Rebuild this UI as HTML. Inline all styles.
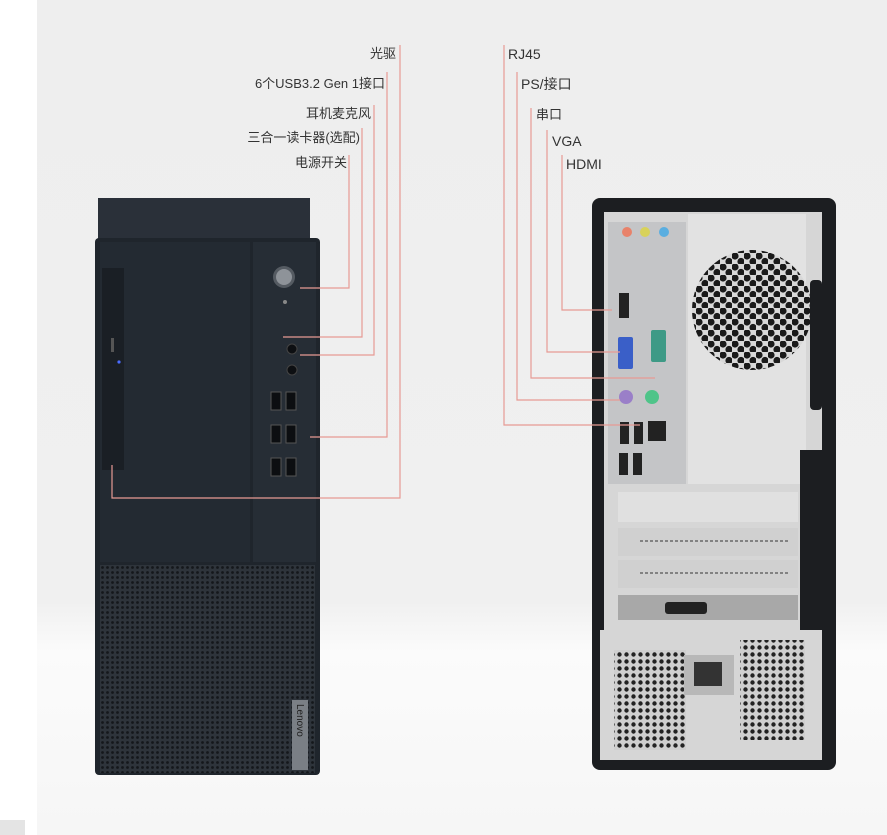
<!DOCTYPE html>
<html><head><meta charset="utf-8"><style>
html,body{margin:0;padding:0;background:#fff;}
svg{display:block}
text{font-family:"Liberation Sans","Noto Sans CJK SC",sans-serif;font-size:13px;fill:#333}
</style></head><body>
<svg width="887" height="835" viewBox="0 0 887 835" xmlns="http://www.w3.org/2000/svg">
<defs>
<linearGradient id="bg" x1="0" y1="0" x2="0" y2="1">
<stop offset="0" stop-color="#eeeeee"/><stop offset="0.72" stop-color="#f0f0f0"/><stop offset="0.78" stop-color="#fbfbfb"/><stop offset="1" stop-color="#f6f6f6"/></linearGradient>
<pattern id="mesh" width="5" height="5" patternUnits="userSpaceOnUse"><rect width="5" height="5" fill="#2e343b"/><circle cx="2.5" cy="2.5" r="1.4" fill="#14171b"/></pattern>
<pattern id="fan" width="12" height="11" patternUnits="userSpaceOnUse"><rect width="12" height="11" fill="#d8d8d8"/><circle cx="3" cy="3" r="3.6" fill="#1a1a1a"/><circle cx="9" cy="8.5" r="3.6" fill="#1a1a1a"/></pattern>
<pattern id="psu" width="7" height="7" patternUnits="userSpaceOnUse"><rect width="7" height="7" fill="#cfcfcf"/><circle cx="3.5" cy="3.5" r="2.2" fill="#222"/></pattern>
</defs>
<rect width="887" height="835" fill="#fff"/>
<rect x="37" y="0" width="850" height="835" fill="url(#bg)"/>
<rect x="0" y="820" width="25" height="15" fill="#e4e4e4"/>

<!-- Front tower -->
<rect x="98" y="198" width="212" height="42" fill="#2a3039"/>
<rect x="95" y="238" width="225" height="537" rx="4" fill="#1f252c"/>
<rect x="100" y="242" width="150" height="320" fill="#232a32"/>
<rect x="253" y="242" width="63" height="320" fill="#262d35"/>
<rect x="102" y="268" width="22" height="202" fill="#1a1f25"/>
<rect x="111" y="338" width="3" height="14" fill="#555"/>
<circle cx="119" cy="362" r="1.6" fill="#4a6cff"/>
<circle cx="284" cy="277" r="11" fill="#555b62"/><circle cx="284" cy="277" r="8" fill="#8e9399"/>
<circle cx="285" cy="302" r="2" fill="#888"/>
<circle cx="292" cy="349" r="5" fill="#0d0f12" stroke="#444"/>
<circle cx="292" cy="370" r="5" fill="#0d0f12" stroke="#444"/>
<g fill="#0c0e11" stroke="#555" stroke-width="1">
<rect x="271" y="392" width="10" height="18"/><rect x="286" y="392" width="10" height="18"/>
<rect x="271" y="425" width="10" height="18"/><rect x="286" y="425" width="10" height="18"/>
<rect x="271" y="458" width="10" height="18"/><rect x="286" y="458" width="10" height="18"/>
</g>
<rect x="100" y="565" width="215" height="208" fill="url(#mesh)"/>
<rect x="292" y="700" width="16" height="70" fill="#7a7f85"/>
<text x="0" y="0" transform="translate(297,704) rotate(90)" style="font-size:10px;fill:#222">Lenovo</text>

<!-- Back tower -->
<rect x="592" y="198" width="244" height="572" rx="8" fill="#1c1e21"/>
<rect x="604" y="212" width="218" height="548" fill="#d6d6d6"/>
<rect x="608" y="222" width="78" height="262" fill="#c4c5c7"/>
<rect x="688" y="214" width="118" height="270" fill="#e2e2e2"/>
<circle cx="752" cy="310" r="60" fill="url(#fan)"/>
<rect x="810" y="280" width="12" height="130" rx="4" fill="#1c1e21"/>
<rect x="800" y="450" width="26" height="180" fill="#1c1e21"/>
<g>
<circle cx="627" cy="232" r="5" fill="#e8826a"/><circle cx="645" cy="232" r="5" fill="#d8d25a"/><circle cx="664" cy="232" r="5" fill="#5aaee0"/>
<rect x="619" y="293" width="10" height="25" fill="#222"/>
<rect x="618" y="337" width="15" height="32" rx="2" fill="#3a5fc8"/>
<rect x="651" y="330" width="15" height="32" rx="2" fill="#3e9a86"/>
<circle cx="626" cy="397" r="7" fill="#9a7fc8"/><circle cx="652" cy="397" r="7" fill="#4fc489"/>
<rect x="620" y="422" width="9" height="22" fill="#222"/><rect x="634" y="422" width="9" height="22" fill="#222"/>
<rect x="648" y="421" width="18" height="20" fill="#222"/>
<rect x="619" y="453" width="9" height="22" fill="#222"/><rect x="633" y="453" width="9" height="22" fill="#222"/>
</g>
<rect x="618" y="492" width="180" height="30" fill="#e0e0e0"/>
<rect x="618" y="528" width="180" height="28" fill="#d0d0d0"/><line x1="640" y1="541" x2="790" y2="541" stroke="#333" stroke-dasharray="3 2"/>
<rect x="618" y="560" width="180" height="28" fill="#d0d0d0"/><line x1="640" y1="573" x2="790" y2="573" stroke="#333" stroke-dasharray="3 2"/>
<rect x="618" y="595" width="180" height="25" fill="#a8a8a8"/><rect x="665" y="602" width="42" height="12" rx="3" fill="#222"/>
<rect x="600" y="630" width="220" height="130" fill="#d6d6d6"/>
<rect x="614" y="650" width="72" height="100" fill="url(#psu)"/>
<rect x="684" y="655" width="50" height="40" fill="#b8b8b8"/><rect x="694" y="662" width="28" height="24" fill="#333"/>
<rect x="740" y="640" width="65" height="100" fill="url(#psu)"/>
<rect x="612" y="760" width="215" height="10" fill="#1c1e21"/>

<!-- Leader lines -->
<g fill="none" stroke="#e79a94" stroke-width="1.2">
<polyline points="400,45 400,498 112,498 112,465"/>
<polyline points="387,72 387,437 310,437"/>
<polyline points="374,105 374,355 300,355"/>
<polyline points="362,128 362,337 283,337"/>
<polyline points="349,155 349,288 300,288"/>
<polyline points="504,45 504,425 640,425"/>
<polyline points="517,72 517,400 620,400"/>
<polyline points="531,108 531,378 655,378"/>
<polyline points="547,130 547,352 620,352"/>
<polyline points="562,155 562,310 612,310"/>
</g>
<g>
<text x="396" y="58" text-anchor="end">光驱</text>
<text x="385" y="88" text-anchor="end">6个USB3.2 Gen 1接口</text>
<text x="371" y="118" text-anchor="end">耳机麦克风</text>
<text x="360" y="142" text-anchor="end">三合一读卡器(选配)</text>
<text x="347" y="167" text-anchor="end">电源开关</text>
<text x="508" y="59" style="font-size:14px">RJ45</text>
<text x="521" y="89" style="font-size:14px">PS/接口</text>
<text x="536" y="119">串口</text>
<text x="552" y="146" style="font-size:14px">VGA</text>
<text x="566" y="169" style="font-size:14px">HDMI</text>
</g>
</svg>
</body></html>
